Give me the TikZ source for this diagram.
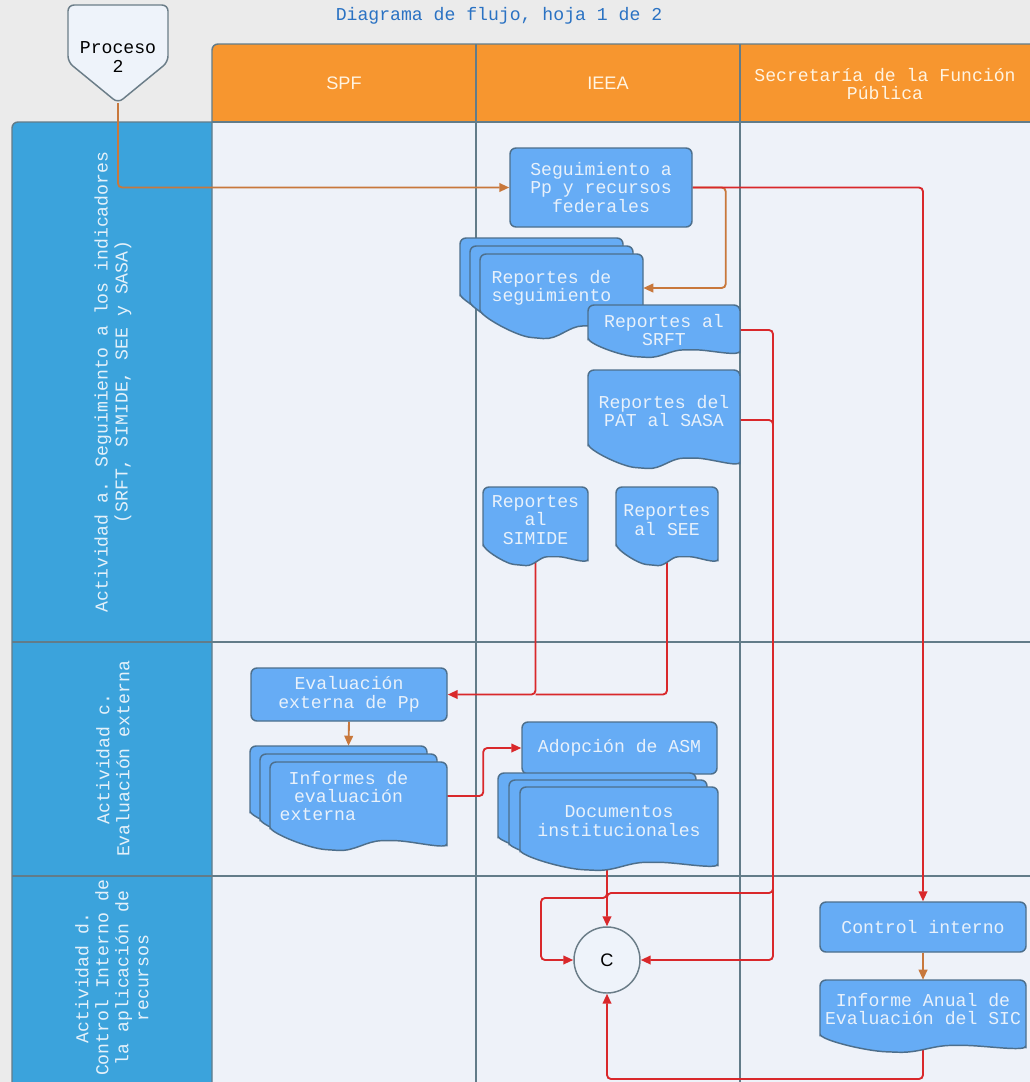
\documentclass[tikz,border=0pt]{standalone}
\usepackage{fontspec}
\setmainfont{Liberation Mono}
\newfontfamily\hsans{Liberation Sans}
\usetikzlibrary{arrows.meta,calc}
\definecolor{bgout}{HTML}{EBEBEB}
\definecolor{poolbg}{HTML}{EEF2F9}
\definecolor{gridc}{HTML}{627C89}
\definecolor{hdr}{HTML}{F7962F}
\definecolor{hdrtxt}{HTML}{FFF4E2}
\definecolor{lane}{HTML}{3BA3DC}
\definecolor{lanetxt}{HTML}{E4F1FA}
\definecolor{boxfill}{HTML}{66ACF5}
\definecolor{boxline}{HTML}{4D6F8C}
\definecolor{boxtxt}{HTML}{E8F1FB}
\definecolor{redc}{HTML}{D9282B}
\definecolor{orc}{HTML}{C8783C}
\definecolor{procfill}{HTML}{EEF3FA}
\definecolor{procline}{HTML}{6B7D88}
\definecolor{titlec}{HTML}{2A72C3}
\pgfdeclarelayer{back}\pgfdeclarelayer{conn}
\pgfsetlayers{back,conn,main}
\tikzset{
  txt/.style={font=\fontsize{13.6}{13.8}\selectfont, align=center, inner sep=0pt},
  box/.style={txt, draw=boxline, fill=boxfill, text=boxtxt, line width=1.1pt, rounded corners=4.5pt},
  doctxt/.style={txt, text=boxtxt},
  docst/.style={draw=boxline, fill=boxfill, line width=1.1pt, rounded corners=4.5pt},
  redl/.style={draw=redc, line width=1.4pt, rounded corners=3pt},
  orl/.style={draw=orc, line width=1.4pt, rounded corners=3pt},
  arr/.style={-{Triangle[length=7.5pt,width=6.5pt]}},
  gridl/.style={draw=gridc, line width=1.1pt},
  lanetx/.style={txt, text=lanetxt, rotate=90, font=\fontsize{13.6}{15}\selectfont},
  hdrtx/.style={txt, text=hdrtxt}
}
\newcommand\docshp[5]{%
  \path[docst] (#1,#2+#4-#5) -- (#1,#2) -- (#1+#3,#2) -- plot[smooth,tension=0.7] coordinates {(#1+#3,#2+#4) (#1+0.67*#3,#2+#4-0.55*#5) (#1+0.35*#3,#2+#4) (#1,#2+#4-#5)} -- cycle;}
\begin{document}
\begin{tikzpicture}[x=0.75pt,y=-0.75pt]
\useasboundingbox (0,0) rectangle (1030,1082);
\begin{pgfonlayer}{back}
\fill[bgout] (0,0) rectangle (1030,1082);
\fill[poolbg] (212,122) rectangle (1030,1082);
\fill[hdr, rounded corners=4.5pt] (212,122) -- (212,44) -- (1045,44) -- (1045,122);
\fill[lane, rounded corners=4.5pt] (212,122) -- (12,122) -- (12,1095) -- (212,1095);
\draw[gridl, rounded corners=4.5pt] (1045,44) -- (212,44) -- (212,1082);
\draw[gridl, rounded corners=4.5pt] (212,122) -- (12,122) -- (12,1090);
\draw[gridl] (212,122) -- (1030,122);
\draw[gridl] (476,44) -- (476,1082);
\draw[gridl] (740,44) -- (740,1082);
\draw[gridl] (12,642) -- (1030,642);
\draw[gridl] (12,876) -- (1030,876);
\end{pgfonlayer}

% title and headers
\node[txt, text=titlec] (title) at (499,16) {Diagrama de flujo, hoja 1 de 2};
\node[hdrtx, font=\hsans\fontsize{13.6}{14}\selectfont] (hspf) at (344,83) {SPF};
\node[hdrtx, font=\hsans\fontsize{13.6}{14}\selectfont] (hieea) at (608,83) {IEEA};
\node[hdrtx] (hsfp) at (885,84) {Secretaría de la Función\\Pública};
\node[lanetx] (la) at (113,382) {Actividad a. Seguimiento a los indicadores\\(SRFT, SIMIDE, SEE y SASA)};
\node[lanetx] (lc) at (113,759) {Actividad c.\\Evaluación externa};
\node[lanetx] (ld) at (112,978) {Actividad d.\\Control Interno de\\la aplicación de\\recursos};

% off-page connector
\path[draw=procline, fill=procfill, line width=1.1pt, rounded corners=4.5pt] (118,103) -- (68,62) -- (68,5) -- (168,5) -- (168,62) -- cycle;
\node[txt, text=black] (proc) at (118,57) {Proceso\\2};
\coordinate (procpt) at (118,103);

% boxes
\node[box, minimum width=182*0.75pt, minimum height=79*0.75pt] (seg) at (601,187.5) {Seguimiento a\\Pp y recursos\\federales};
\node[box, minimum width=196*0.75pt, minimum height=53*0.75pt] (eval) at (349,694.5) {Evaluación\\externa de Pp};
\node[box, minimum width=195*0.75pt, minimum height=52*0.75pt] (adop) at (619.5,748) {Adopción de ASM};
\node[box, minimum width=206*0.75pt, minimum height=50*0.75pt] (ctrl) at (923,927) {Control interno};

% documents
\docshp{460}{238}{163}{84}{22}
\docshp{470}{246}{163}{84}{22}
\docshp{480}{254}{163}{84}{22}
\node[doctxt, minimum width=183*0.75pt, minimum height=100*0.75pt] (segdoc) at (551.5,288) {Reportes de\\seguimiento};

\docshp{588}{305}{152}{52}{13}
\node[doctxt, minimum width=152*0.75pt, minimum height=40*0.75pt] (srft) at (664,330) {Reportes al\\SRFT};

\docshp{588}{370}{152}{98}{18}
\node[doctxt, minimum width=152*0.75pt, minimum height=70*0.75pt] (pat) at (664,411) {Reportes del\\PAT al SASA};

\docshp{483}{487}{105}{78}{15}
\node[doctxt, minimum width=105*0.75pt, minimum height=60*0.75pt] (simide) at (535.5,520) {Reportes\\al\\SIMIDE};

\docshp{616}{487}{102}{78}{15}
\node[doctxt, minimum width=102*0.75pt, minimum height=60*0.75pt] (see) at (667,520) {Reportes\\al SEE};

\docshp{250}{746}{177}{88}{17}
\docshp{260}{754}{177}{88}{17}
\docshp{270}{762}{177}{88}{17}
\node[doctxt, minimum width=197*0.75pt, minimum height=100*0.75pt] (inf) at (348.5,796) {Informes de\\evaluación\\externa\hspace*{46pt}};

\docshp{498}{773}{198}{83}{14}
\docshp{509}{780}{198}{83}{14}
\docshp{520}{787}{198}{83}{14}
\node[doctxt, minimum width=198*0.75pt, minimum height=70*0.75pt] (docs) at (619,821) {Documentos\\institucionales};

\docshp{820}{980}{206}{72}{12}
\node[doctxt, minimum width=206*0.75pt, minimum height=58*0.75pt] (anual) at (923,1009) {Informe Anual de\\Evaluación del SIC};

% connector circle
\node[circle, draw=procline, fill=procfill, line width=1.1pt, minimum size=66*0.75pt, inner sep=0pt, font=\hsans\fontsize{13.6}{14}\selectfont] (C) at (607,960) {C};

\begin{pgfonlayer}{conn}
\draw[orl, arr] (procpt) |- (seg.west);
\draw[orl, arr] (seg.east) -- ++(33,0) |- (segdoc.east);
\draw[redl, arr] (seg.east) -| (ctrl.north);
\draw[redl, arr] (srft.east) -| (773,893) -| (C.north);
\draw[redl, arr] ([yshift=-6.75pt]pat.east) -| (773,960) -- (C.east);
\draw[redl, arr] (docs.south -| C.north) -- (607,898) -- (541,898) |- (C.west);
\draw[redl, arr] (anual.south) |- (607,1079) -- (C.south);
\draw[redl, arr] (simide.south) |- (eval.east);
\draw[redl] (see.south) |- (simide.south |- eval.east);
\draw[orl, arr] (eval.south) -- (inf.north);
\draw[redl, arr] (inf.east) -- ++(36,0) |- (adop.west);
\draw[orl, arr] (ctrl.south) -- (anual.north);
\end{pgfonlayer}
\end{tikzpicture}
\end{document}
